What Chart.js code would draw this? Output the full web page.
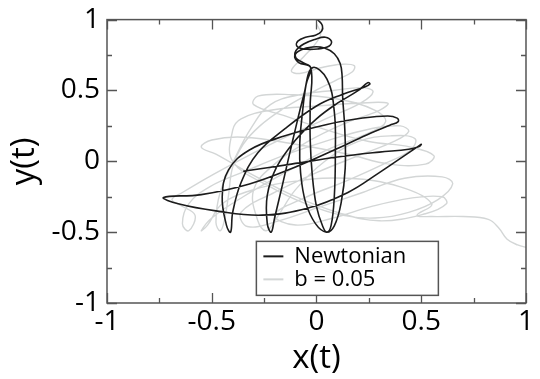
<!DOCTYPE html>
<html>
<head>
<meta charset="utf-8">
<script src="https://cdn.jsdelivr.net/npm/chart.js@4/dist/chart.umd.min.js"></script>
<style>
  html, body { margin: 0; padding: 0; background: #fff; }
  canvas { display: block; }
</style>
</head>
<body>
<canvas id="c" width="540" height="379"></canvas>
<script>
// ---- data ----
const seriesLabels = ["Newtonian", "b = 0.05"];

const newtonianX = [0.005,0.028,0.024,-0.005,-0.052,-0.089,-0.094,-0.061,0.005,0.061,0.071,0.042,-0.005,-0.061,-0.099,-0.099,-0.066,-0.028,
  -0.05,-0.068,-0.08,-0.076,-0.052,-0.005,0.047,
  0.085,0.118,0.137,0.135,0.125,0.122,0.113,0.085,0.038,-0.019,-0.075,-0.104,-0.085,-0.028,
  -0.03,-0.03,-0.02,0.00,0.03,0.05,0.07,0.085,0.09,0.085,0.05,-0.02,
  -0.06,-0.11,-0.16,-0.20,-0.216,-0.235,-0.235,-0.19,-0.10,0.00,0.10,0.20,0.245,0.255,0.23,0.12,0.00,-0.15,-0.28,-0.36,-0.40,-0.41,-0.43,-0.45,-0.42,-0.32,-0.15,0.05,0.22,0.34,0.385,0.39,0.35,0.26,0.10,-0.10,-0.32,-0.55,-0.73,-0.66,-0.48,-0.26,-0.04,0.15,0.30,0.42,0.48,0.50,0.49,0.44,0.30,0.10,-0.12,-0.35];
const newtonianY = [1.00,0.959,0.917,0.890,0.876,0.848,0.814,0.793,0.793,0.814,0.848,0.876,0.862,0.828,0.779,0.731,0.697,0.662,
  0.54,0.33,0.12,-0.08,-0.29,-0.44,-0.50,
  -0.455,-0.29,-0.05,0.23,0.45,0.607,0.690,0.759,0.800,0.807,0.786,0.745,0.697,0.662,
  0.40,0.15,-0.10,-0.32,-0.46,-0.50,-0.45,-0.25,0.05,0.35,0.58,0.66,
  0.47,0.17,-0.15,-0.40,-0.50,-0.44,-0.24,-0.04,0.15,0.30,0.41,0.50,0.555,0.545,0.525,0.47,0.39,0.23,0.06,-0.15,-0.36,-0.50,-0.45,-0.25,-0.06,0.08,0.18,0.26,0.305,0.32,0.305,0.28,0.255,0.20,0.09,-0.04,-0.16,-0.235,-0.255,-0.30,-0.35,-0.38,-0.33,-0.22,-0.08,0.04,0.10,0.12,0.105,0.085,0.065,0.03,-0.02,-0.07,-0.12];

const dampedX = [0.00,0.02,-0.01,-0.06,-0.12,-0.08,0.02,0.12,0.18,0.17,0.09,-0.03,-0.16,-0.27,-0.35,-0.40,-0.42,-0.44,-0.46,-0.48,-0.46,-0.39,-0.31,-0.22,-0.08,0.08,0.22,0.27,0.21,0.06,-0.12,-0.30,-0.49,-0.64,-0.69,-0.65,-0.58,-0.61,-0.64,-0.61,-0.51,-0.34,-0.14,0.06,0.26,0.40,0.44,0.37,0.20,0.00,-0.20,-0.36,-0.33,-0.18,0.02,0.22,0.42,0.60,0.65,0.58,0.44,0.28,0.12,-0.05,-0.22,-0.40,-0.40,-0.36,-0.22,0.00,0.20,0.34,0.30,0.14,-0.04,-0.20,-0.30,-0.28,-0.24,-0.19,-0.10,0.04,0.20,0.36,0.47,0.45,0.32,0.14,-0.06,-0.20,-0.10,0.08,0.26,0.45,0.60,0.62,0.52,0.30,0.10,-0.10,-0.30,-0.48,-0.55,-0.50,-0.35,-0.10,0.15,0.35,0.52,0.56,0.45,0.25,0.05,-0.15,-0.30,-0.28,-0.12,0.10,0.28,0.33,0.25,0.05,-0.15,-0.35,-0.50,-0.55,-0.52,-0.45,-0.30,-0.10,0.15,0.40,0.55,0.48,0.55,0.70,0.82,0.87,0.91,0.96,1.01];
const dampedY = [0.97,0.90,0.82,0.74,0.64,0.62,0.66,0.685,0.675,0.63,0.57,0.48,0.37,0.25,0.12,-0.04,-0.24,-0.42,-0.49,-0.43,-0.22,0.02,0.24,0.40,0.47,0.50,0.52,0.49,0.41,0.31,0.19,0.06,-0.09,-0.22,-0.27,-0.31,-0.38,-0.49,-0.44,-0.30,-0.18,-0.07,0.05,0.15,0.23,0.25,0.21,0.14,0.04,-0.08,-0.22,-0.36,-0.46,-0.42,-0.32,-0.22,-0.12,-0.11,-0.16,-0.27,-0.36,-0.40,-0.38,-0.30,-0.18,0.00,0.22,0.30,0.36,0.39,0.41,0.41,0.36,0.27,0.14,-0.02,-0.20,-0.42,-0.49,-0.40,-0.20,0.00,0.14,0.18,0.16,0.08,-0.02,-0.14,-0.26,-0.38,-0.45,-0.40,-0.32,-0.26,-0.25,-0.30,-0.37,-0.42,-0.36,-0.25,-0.10,0.05,0.10,0.15,0.17,0.12,0.05,-0.02,-0.02,0.04,0.10,0.14,0.22,0.32,0.40,0.46,0.47,0.44,0.36,0.28,0.20,0.08,-0.08,-0.25,-0.40,-0.49,-0.45,-0.30,-0.20,-0.14,-0.12,-0.18,-0.30,-0.38,-0.39,-0.39,-0.41,-0.47,-0.55,-0.59,-0.61];

const xTickValues = [-1, -0.5, 0, 0.5, 1];
const yTickValues = [-1, -0.5, 0, 0.5, 1];

function pairs(xs, ys) { return xs.map((v, i) => ({ x: v, y: ys[i] })); }

const FONT = "'Open Sans', 'Liberation Sans', sans-serif";

const frameAndTicks = {
  id: 'frameAndTicks',
  afterDatasetsDraw(chart) {
    const { ctx, chartArea: { left, right, top, bottom }, scales: { x, y } } = chart;
    ctx.save();
    ctx.strokeStyle = '#555';
    ctx.lineWidth = 1.3;
    ctx.beginPath();
    x.ticks.forEach(t => {
      const p = Math.round(x.getPixelForValue(t.value)) + 0.5;
      const len = xTickValues.includes(t.value) ? 10 : 5;
      ctx.moveTo(p, bottom); ctx.lineTo(p, bottom - len);
      ctx.moveTo(p, top); ctx.lineTo(p, top + len);
    });
    y.ticks.forEach(t => {
      const p = Math.round(y.getPixelForValue(t.value)) + 0.5;
      const len = yTickValues.includes(t.value) ? 10 : 5;
      ctx.moveTo(left, p); ctx.lineTo(left + len, p);
      ctx.moveTo(right, p); ctx.lineTo(right - len, p);
    });
    ctx.stroke();
    ctx.lineWidth = 1.5;
    ctx.strokeRect(left, top, right - left, bottom - top);
    ctx.restore();
  }
};

const boxLegend = {
  id: 'boxLegend',
  afterDraw(chart) {
    const { ctx, scales: { x, y } } = chart;
    const bx = x.getPixelForValue(-0.287), by = y.getPixelForValue(-0.565);
    const bw = 182, bh = 54;
    ctx.save();
    ctx.fillStyle = '#fff';
    ctx.fillRect(bx, by, bw, bh);
    ctx.strokeStyle = '#555';
    ctx.lineWidth = 1.5;
    ctx.strokeRect(bx, by, bw, bh);
    ctx.font = "22px " + FONT;
    ctx.textBaseline = 'middle';
    chart.data.datasets.forEach((ds, i) => {
      const cy = by + 15 + i * 23;
      ctx.strokeStyle = ds.borderColor;
      ctx.lineWidth = 2;
      ctx.beginPath(); ctx.moveTo(bx + 7, cy); ctx.lineTo(bx + 27, cy); ctx.stroke();
      ctx.fillStyle = '#000';
      ctx.fillText(ds.label, bx + 38, cy);
    });
    ctx.restore();
  }
};

new Chart(document.getElementById('c'), {
  type: 'scatter',
  data: {
    datasets: [
      { label: seriesLabels[0], data: pairs(newtonianX, newtonianY), showLine: true,
        borderColor: '#1c1c1c', borderWidth: 1.6, pointRadius: 0, tension: 0.4, order: 0 },
      { label: seriesLabels[1], data: pairs(dampedX, dampedY), showLine: true,
        borderColor: '#d3d6d6', borderWidth: 1.4, pointRadius: 0, tension: 0.4, order: 1 }
    ]
  },
  options: {
    responsive: false,
    animation: false,
    devicePixelRatio: 1,
    layout: { padding: { left: 0, right: 8, top: 13, bottom: 0 } },
    plugins: { legend: { display: false }, tooltip: { enabled: false } },
    scales: {
      x: {
        type: 'linear', min: -1, max: 1,
        afterFit(s) { s.height = 76; },
        grid: { display: false, drawTicks: false },
        border: { display: false },
        ticks: { stepSize: 0.25, padding: 6, color: '#000', maxRotation: 0, autoSkip: false,
          font: { family: FONT, size: 28, lineHeight: 0.9 },
          callback: v => xTickValues.includes(v) ? String(v) : '' },
        title: { display: true, text: 'x(t)', color: '#000',
          font: { family: FONT, size: 33, lineHeight: 1 }, padding: { top: 0, bottom: 4 } }
      },
      y: {
        type: 'linear', min: -1, max: 1,
        afterFit(s) { s.width = 107; },
        grid: { display: false, drawTicks: false },
        border: { display: false },
        ticks: { stepSize: 0.25, padding: 7, color: '#000', autoSkip: false,
          font: { family: FONT, size: 28, lineHeight: 0.9 },
          callback: v => yTickValues.includes(v) ? String(v) : '' },
        title: { display: true, text: 'y(t)', color: '#000',
          font: { family: FONT, size: 33, lineHeight: 1 }, padding: { top: 8, bottom: 0 } }
      }
    }
  },
  plugins: [frameAndTicks, boxLegend]
});
</script>
</body>
</html>
